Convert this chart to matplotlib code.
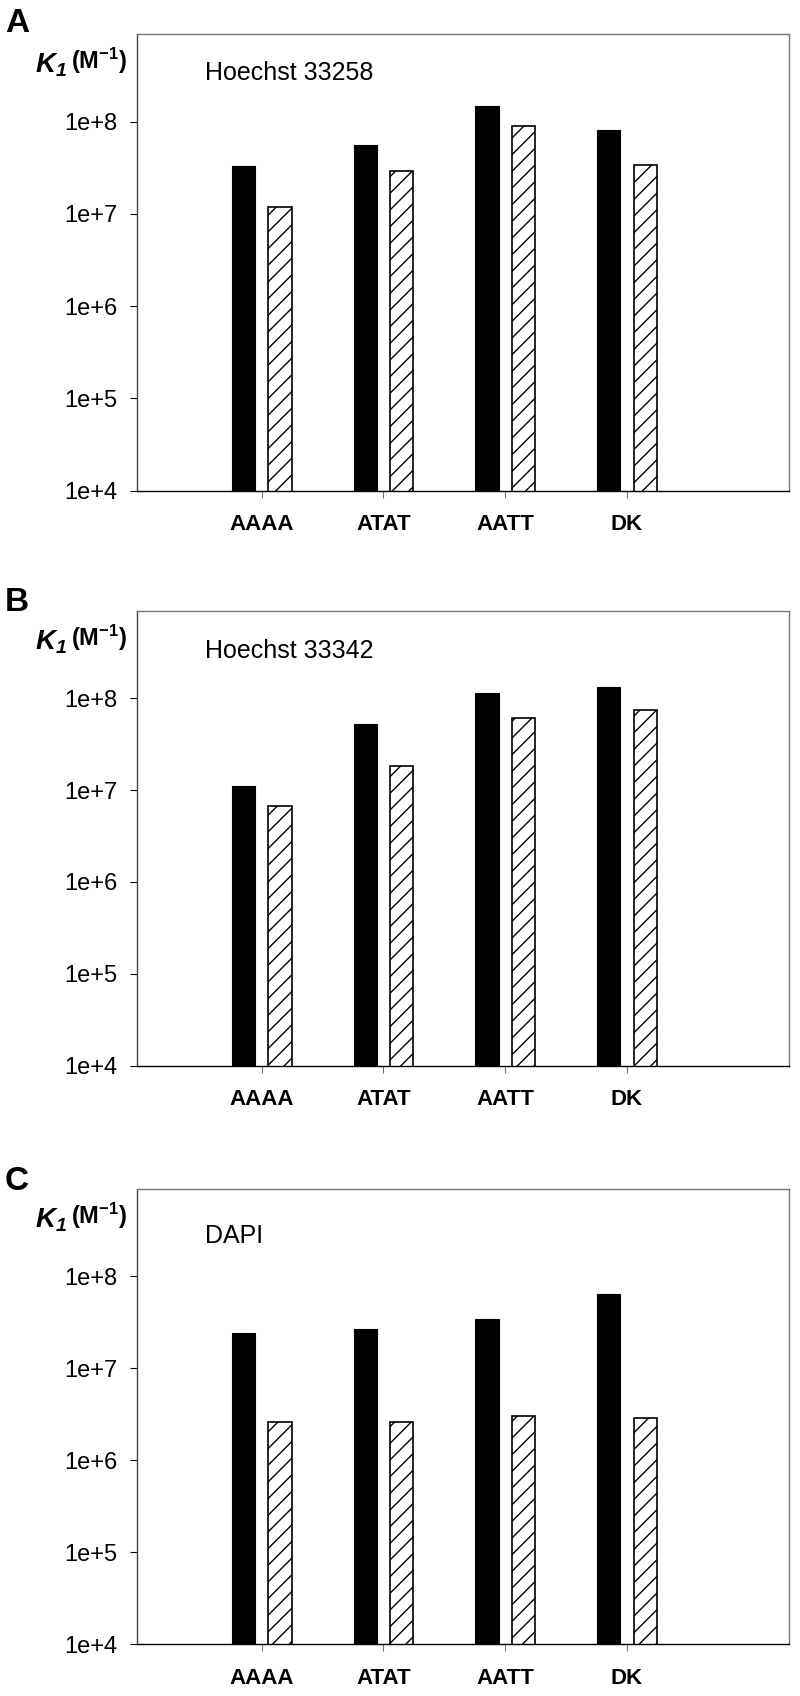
import matplotlib.pyplot as plt
import numpy as np
from matplotlib.ticker import FixedLocator, FuncFormatter, NullLocator

plt.rcParams['font.family'] = 'Liberation Sans'
plt.rcParams['mathtext.fontset'] = 'custom'
plt.rcParams['mathtext.rm'] = 'Liberation Sans'
plt.rcParams['mathtext.it'] = 'Liberation Sans:italic'
plt.rcParams['mathtext.bf'] = 'Liberation Sans:bold'
plt.rcParams['mathtext.bfit'] = 'Liberation Sans:italic:bold'
plt.rcParams['hatch.linewidth'] = 1.0

# Data (K1 in M^-1)
sequences = ['AAAA', 'ATAT', 'AATT', 'DK']
drugs = ['Hoechst 33258', 'Hoechst 33342', 'DAPI']
panel_letters = ['A', 'B', 'C']

h33258_solid = [3.3e7, 5.6e7, 1.49e8, 8.2e7]
h33258_hatch = [1.2e7, 2.9e7, 8.9e7, 3.4e7]
h33342_solid = [1.12e7, 5.2e7, 1.13e8, 1.33e8]
h33342_hatch = [6.7e6, 1.83e7, 6.05e7, 7.4e7]
dapi_solid = [2.4e7, 2.7e7, 3.4e7, 6.5e7]
dapi_hatch = [2.6e6, 2.6e6, 3.0e6, 2.9e6]

solid_sets = [h33258_solid, h33342_solid, dapi_solid]
hatch_sets = [h33258_hatch, h33342_hatch, dapi_hatch]

yticks = [1e4, 1e5, 1e6, 1e7, 1e8]

W, H = 800, 1696
fig = plt.figure(figsize=(W / 100, H / 100), dpi=100)

# axes boxes in pixels: (top, bottom)
boxes = [(34, 490.5), (611, 1065.7), (1189, 1644.3)]
letter_tops = [8, 587, 1166]
title_drop = [46, 47, 54]
ax_left, ax_right = 137, 789

x = np.arange(len(sequences))
bw = 0.19
off = 0.15

for i in range(3):
    top, bot = boxes[i]
    ax = fig.add_axes([ax_left / W, 1 - bot / H, (ax_right - ax_left) / W, (bot - top) / H])
    ax.bar(x - off, solid_sets[i], width=bw, color='black', edgecolor='black', linewidth=0.8)
    ax.bar(x + off, hatch_sets[i], width=bw, color='white', edgecolor='black',
           linewidth=1.2, hatch='//')
    ax.set_yscale('log')
    ax.set_ylim(1e4, 10 ** 8.95)
    ax.set_xlim(-1.024, 4.33)
    ax.yaxis.set_major_locator(FixedLocator(yticks))
    ax.yaxis.set_minor_locator(NullLocator())
    ax.yaxis.set_major_formatter(FuncFormatter(lambda v, p: '1e+%d' % round(np.log10(v))))
    ax.set_xticks(x)
    ax.set_xticklabels(sequences, fontweight='bold')
    ax.tick_params(axis='y', length=5, width=0.8, pad=9, labelsize=17, color='black')
    ax.tick_params(axis='x', length=5, width=0.8, pad=12, labelsize=16, color='#777777')
    ax.spines['top'].set_color('#777777')
    ax.spines['right'].set_color('#777777')
    ax.spines['left'].set_color('#444444')
    ax.spines['bottom'].set_color('black')
    for s in ax.spines.values():
        s.set_linewidth(1.0)

    ax.text((205 - ax_left) / (ax_right - ax_left), 1 - title_drop[i] / (bot - top),
            drugs[i], transform=ax.transAxes, fontsize=18, va='baseline', ha='left')

    unit = ax.text(-10 / (ax_right - ax_left), 1 - 27 / (bot - top),
                   r'$\mathbf{(M}^{\mathbf{-1}}\mathbf{)}$',
                   transform=ax.transAxes, fontsize=17, ha='right', va='center')
    ax.annotate(r'$\mathbfit{K}_{\mathbfit{1}}$', xy=(0, 0.35), xycoords=unit,
                xytext=(-3, 0), textcoords='offset points',
                fontsize=20, ha='right', va='center')

    fig.text(5 / W, 1 - letter_tops[i] / H, panel_letters[i], fontsize=24,
             fontweight='bold', va='top', ha='left')

plt.savefig('out.png', dpi=100)
